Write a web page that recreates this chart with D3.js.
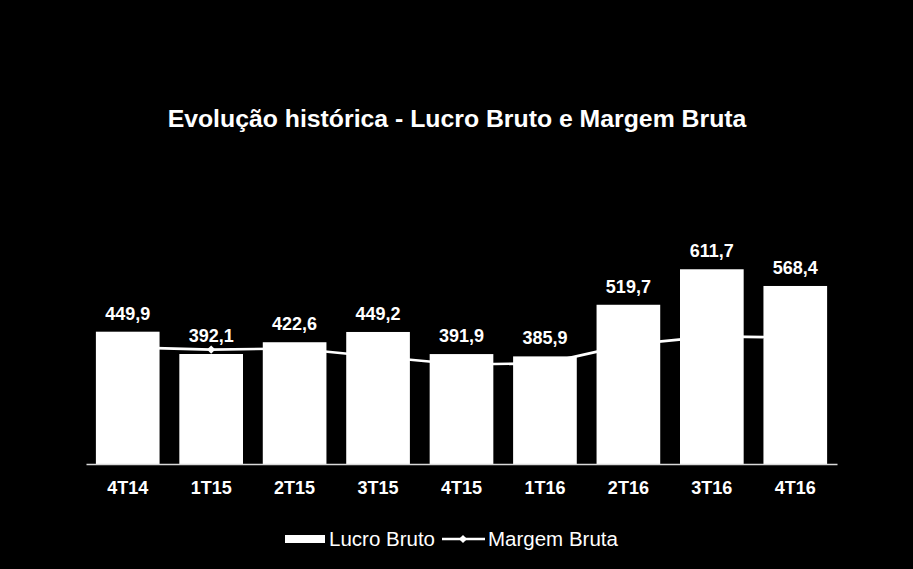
<!DOCTYPE html>
<html>
<head>
<meta charset="utf-8">
<script src="https://cdn.jsdelivr.net/npm/d3@7"></script>
<style>
  html, body { margin: 0; padding: 0; background: #000; }
  svg { display: block; }
</style>
</head>
<body>
<div id="chart"></div>
<script>
const categories = ["4T14", "1T15", "2T15", "3T15", "4T15", "1T16", "2T16", "3T16", "4T16"];
const lucroBruto = [449.9, 392.1, 422.6, 449.2, 391.9, 385.9, 519.7, 611.7, 568.4];
const lucroLabels = ["449,9", "392,1", "422,6", "449,2", "391,9", "385,9", "519,7", "611,7", "568,4"];
const margemBruta = [21.2, 20.8, 21.0, 19.5, 18.1, 18.3, 21.7, 23.2, 23.0];
const titleText = "Evolução histórica - Lucro Bruto e Margem Bruta";
const legendLabels = ["Lucro Bruto", "Margem Bruta"];

const W = 913, H = 569;
const font = "'Liberation Sans', Arial, sans-serif";

const svg = d3.select("#chart").append("svg")
  .attr("width", W).attr("height", H)
  .style("background", "#000");

const x = d3.scaleBand().domain(categories).range([86, 837])
  .paddingInner(0.237).paddingOuter(0.1185);
const y = d3.scaleLinear().domain([107, 700]).range([464, 235.2]);
const y2 = d3.scaleLinear().domain([0, 50]).range([464, 189]);

// diamond marker: rotated square
const diamond = d3.symbol().type(d3.symbolSquare).size(34);

// title
svg.append("text")
  .attr("x", 457).attr("y", 127)
  .attr("text-anchor", "middle")
  .attr("font-family", font).attr("font-weight", "bold")
  .attr("font-size", 24.8).attr("fill", "#fff")
  .text(titleText);

// line (behind bars)
const line = d3.line()
  .x((d, i) => x(categories[i]) + x.bandwidth() / 2)
  .y(d => y2(d));
svg.append("path").datum(margemBruta)
  .attr("d", line).attr("fill", "none")
  .attr("stroke", "#fff").attr("stroke-width", 2.6);
svg.selectAll(".mk").data(margemBruta).join("path")
  .attr("class", "mk")
  .attr("d", diamond)
  .attr("transform", (d, i) => `translate(${x(categories[i]) + x.bandwidth() / 2},${y2(d)}) rotate(45)`)
  .attr("fill", "#fff");

// bars
svg.selectAll(".bar").data(lucroBruto).join("rect")
  .attr("class", "bar")
  .attr("x", (d, i) => x(categories[i]))
  .attr("width", x.bandwidth())
  .attr("y", d => y(d))
  .attr("height", d => y(y.domain()[0]) - y(d))
  .attr("fill", "#fff");

// value labels
svg.selectAll(".vl").data(lucroBruto).join("text")
  .attr("class", "vl")
  .attr("x", (d, i) => x(categories[i]) + x.bandwidth() / 2)
  .attr("y", d => y(d) - 12)
  .attr("text-anchor", "middle")
  .attr("font-family", font).attr("font-weight", "bold")
  .attr("font-size", 18).attr("fill", "#fff")
  .text((d, i) => lucroLabels[i]);

// x axis
const xAxis = svg.append("g")
  .attr("transform", `translate(0,${y(y.domain()[0])})`)
  .call(d3.axisBottom(x).tickSize(0).tickPadding(17));
xAxis.select(".domain").attr("stroke", "#d9d9d9").attr("stroke-width", 1.5);
xAxis.selectAll("text")
  .attr("font-family", font).attr("font-weight", "bold")
  .attr("font-size", 18).attr("fill", "#fff");

// legend
const lg = svg.append("g");
lg.append("rect").attr("x", 285).attr("y", 535).attr("width", 40).attr("height", 8).attr("fill", "#fff");
lg.append("text").attr("x", 329).attr("y", 546)
  .attr("font-family", font).attr("font-size", 20.5).attr("fill", "#fff")
  .text(legendLabels[0]);
lg.append("line").attr("x1", 442).attr("x2", 485).attr("y1", 539).attr("y2", 539)
  .attr("stroke", "#fff").attr("stroke-width", 2.6);
lg.append("path").attr("d", diamond)
  .attr("transform", "translate(463,539) rotate(45)").attr("fill", "#fff");
lg.append("text").attr("x", 488).attr("y", 546)
  .attr("font-family", font).attr("font-size", 20.5).attr("fill", "#fff")
  .text(legendLabels[1]);
</script>
</body>
</html>
